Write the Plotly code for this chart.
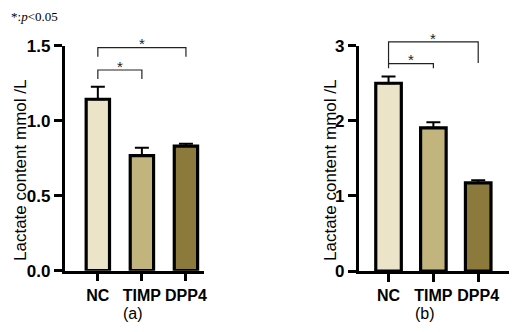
import plotly.graph_objects as go

categories = ["NC", "TIMP", "DPP4"]
colors = ["#ebe4c8", "#c1b47c", "#8b7a3b"]

# panel (a)
a_values = [1.143, 0.767, 0.831]
a_err = [0.084, 0.053, 0.016]
a_yticks = [0.0, 0.5, 1.0, 1.5]
a_yticklabels = ["0.0", "0.5", "1.0", "1.5"]
a_brackets = [(0, 2, 1.487, 1.427), (0, 1, 1.338, 1.278)]
a_stars = [1.512, 1.362]

# panel (b)
b_values = [2.50, 1.907, 1.173]
b_err = [0.09, 0.073, 0.037]
b_yticks = [0, 1, 2, 3]
b_yticklabels = ["0", "1", "2", "3"]
b_brackets = [(0, 2, 3.05, 2.77), (0, 1, 2.76, 2.70)]
b_stars = [3.10, 2.81]

# page body has an 8px margin; lay out in window pixels and shift
OFF = 8
W, H = 518 - 2 * OFF, 332 - 2 * OFF
fig = go.Figure()

def px_x(p):
    return (p - OFF) / W

def px_y(p):
    return 1 - (p - OFF) / H

a_dom_x = [px_x(64.5), px_x(204)]
b_dom_x = [px_x(358.5), px_x(508.7)]
a_dom_y = [px_y(270.7), px_y(45.7)]
b_dom_y = [px_y(271), px_y(45.7)]
top_dom = 0.99

a_ymax = 1.5
b_ymax = 3.0
a_y3max = a_ymax * (top_dom - a_dom_y[0]) / (a_dom_y[1] - a_dom_y[0])
b_y4max = b_ymax * (top_dom - b_dom_y[0]) / (b_dom_y[1] - b_dom_y[0])

for vals, errs, xa, ya, width in [(a_values, a_err, "x", "y", 0.53), (b_values, b_err, "x2", "y2", 0.57)]:
    fig.add_trace(go.Bar(
        x=categories, y=vals, xaxis=xa, yaxis=ya, width=width,
        marker=dict(color=colors, line=dict(color="black", width=3.2)),
        error_y=dict(type="data", symmetric=False, array=errs, arrayminus=[0, 0, 0],
                     color="black", thickness=2, width=7),
        showlegend=False, hoverinfo="skip",
    ))

def add_brackets(brackets, stars, xa, ya):
    for (i0, i1, yt, yb), sy in zip(brackets, stars):
        c0, c1 = categories[i0], categories[i1]
        fig.add_trace(go.Scatter(
            x=[c0, c0, c1, c1], y=[yb, yt, yt, yb], mode="lines",
            line=dict(color="#222", width=1.2), xaxis=xa, yaxis=ya,
            showlegend=False, hoverinfo="skip",
        ))
        mid = (i0 + i1) / 2
        fig.add_annotation(x=mid, y=sy, xref=xa, yref=ya, text="*", showarrow=False,
                           font=dict(family="Arial", size=15, color="#222"),
                           xanchor="center", yanchor="middle")

add_brackets(a_brackets, a_stars, "x", "y3")
add_brackets(b_brackets, b_stars, "x2", "y4")

xtickfont = dict(family="Arial", size=16, color="black", weight="bold")
ytickfont = dict(family="Arial", size=17, color="black", weight="bold")
common_x = dict(type="category", showline=True, linewidth=2.5, linecolor="black",
                ticks="outside", ticklen=8, tickwidth=2.5, tickcolor="black",
                tickfont=xtickfont, tickangle=0, showgrid=False, zeroline=False,
                fixedrange=True, automargin=False)
common_y = dict(showline=True, linewidth=2.5, linecolor="black",
                ticks="outside", ticklen=8, tickwidth=2.5, tickcolor="black",
                tickfont=ytickfont, showgrid=False, zeroline=False, fixedrange=True,
                automargin=False)

fig.update_layout(
    width=W, height=H, margin=dict(l=0, r=0, t=0, b=0, autoexpand=False),
    paper_bgcolor="white", plot_bgcolor="rgba(0,0,0,0)",
    xaxis=dict(domain=a_dom_x, range=[-0.757, 2.41], anchor="y", **common_x),
    yaxis=dict(domain=a_dom_y, range=[0, a_ymax], anchor="x", tickvals=a_yticks,
               ticktext=a_yticklabels, **common_y),
    xaxis2=dict(domain=b_dom_x, range=[-0.67, 2.68], anchor="y2", **common_x),
    yaxis2=dict(domain=b_dom_y, range=[0, b_ymax], anchor="x2", tickvals=b_yticks,
                ticktext=b_yticklabels, **common_y),
    yaxis3=dict(domain=[a_dom_y[0], top_dom], range=[0, a_y3max], anchor="x",
                visible=False, automargin=False, fixedrange=True),
    yaxis4=dict(domain=[b_dom_y[0], top_dom], range=[0, b_y4max], anchor="x2",
                visible=False, automargin=False, fixedrange=True),
)

title_font = dict(family="Arial", size=17, color="black")
label_font = dict(family="Arial", size=16, color="black")
for tx, ty, txt, ang, fnt in [
    (20, 171, "Lactate content mmol /L", -90, title_font),
    (330, 171, "Lactate content mmol /L", -90, title_font),
    (133, 313, "(a)", 0, label_font),
    (425, 313, "(b)", 0, label_font),
]:
    fig.add_annotation(x=px_x(tx), y=px_y(ty), xref="paper", yref="paper",
                       text=txt, textangle=ang, showarrow=False, font=fnt,
                       xanchor="center", yanchor="middle")
fig.add_annotation(x=px_x(9), y=px_y(16.5), xref="paper", yref="paper", xanchor="left",
                   yanchor="middle", text="*:<i>p</i><0.05", showarrow=False,
                   font=dict(family="Liberation Serif", size=13, color="black"))

fig.write_html("out.html")
